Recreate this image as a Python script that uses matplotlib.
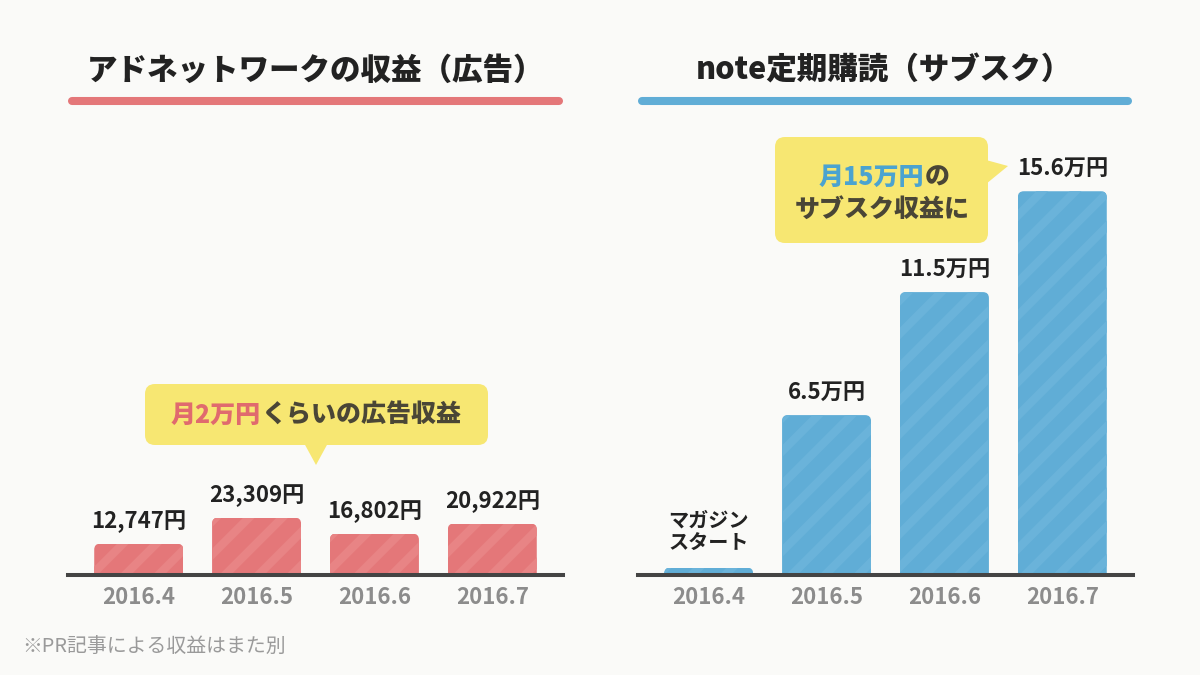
import matplotlib
matplotlib.use('Agg')
import matplotlib.pyplot as plt
from matplotlib.patches import FancyBboxPatch, Polygon
from matplotlib.transforms import IdentityTransform
from matplotlib.lines import Line2D

plt.rcParams['font.family'] = ['Noto Sans CJK JP', 'DejaVu Sans']
plt.rcParams['hatch.linewidth'] = 6

# ---- data ----
months = ['2016.4', '2016.5', '2016.6', '2016.7']
ad_revenue_yen = [12747, 23309, 16802, 20922]
ad_labels = ['12,747円', '23,309円', '16,802円', '20,922円']
sub_revenue_man = [0.3, 6.5, 11.5, 15.6]
sub_labels = ['マガジン\nスタート', '6.5万円', '11.5万円', '15.6万円']
left_title = 'アドネットワークの収益（広告）'
right_title = 'note定期購読（サブスク）'
footnote = '※PR記事による収益はまた別'

BG = '#FAFAF8'
RED = '#E47779'
RED_STRIPE = '#E88485'
BLUE = '#60ADD6'
BLUE_STRIPE = '#6AB3DA'
YELLOW = '#F7E772'
DARK = '#222222'
CALLOUT_TXT = '#4A4636'
GRAY = '#8C8C8C'

W, H = 1200, 675
fig = plt.figure(figsize=(12, 6.75), dpi=100, facecolor=BG)

PX_PER_MAN = 24.6
AX_H = 475


def make_axes(left_px):
    ax = fig.add_axes([left_px / W, 100 / H, 495 / W, AX_H / H])
    ax.set_facecolor('none')
    for s in ['top', 'left', 'right']:
        ax.spines[s].set_visible(False)
    ax.spines['bottom'].set_color('#444444')
    ax.spines['bottom'].set_linewidth(2.9)
    ax.set_yticks([])
    ax.set_xlim(-0.6, 3.6)
    ax.set_xticks(range(len(months)))
    ax.set_xticklabels(months, fontsize=16, fontweight='bold', color=GRAY)
    ax.tick_params(axis='x', length=0, pad=8)
    return ax


def round_tops(ax, bars, r=6):
    for b in bars:
        x0, y0 = ax.transData.transform((b.get_x(), 0))
        x1, y1 = ax.transData.transform((b.get_x() + b.get_width(), b.get_height()))
        clip = FancyBboxPatch((x0, y0 - 2 * r), x1 - x0, (y1 - y0) + 2 * r,
                              boxstyle=f'round,pad=0,rounding_size={r}',
                              transform=IdentityTransform())
        b.set_clip_path(clip)


# left panel
axL = make_axes(68)
axL.set_ylim(0, AX_H / PX_PER_MAN * 10000)
barsL = axL.bar(range(4), ad_revenue_yen, width=0.755, color=RED,
                edgecolor=RED_STRIPE, linewidth=0, hatch='/')
round_tops(axL, barsL)
for i, (v, lab) in enumerate(zip(ad_revenue_yen, ad_labels)):
    axL.annotate(lab, (i, v), xytext=(0, 22 * 0.72), textcoords='offset points',
                 ha='center', va='center', fontsize=16, fontweight='bold', color=DARK)

# right panel
axR = make_axes(638)
axR.set_ylim(0, AX_H / PX_PER_MAN)
barsR = axR.bar(range(4), sub_revenue_man, width=0.755, color=BLUE,
                edgecolor=BLUE_STRIPE, linewidth=0, hatch='/')
round_tops(axR, barsR)
for i, (v, lab) in enumerate(zip(sub_revenue_man, sub_labels)):
    if '\n' in lab:
        axR.annotate(lab, (i, v), xytext=(0, 36 * 0.72), textcoords='offset points',
                     ha='center', va='center', fontsize=14.5, fontweight='bold',
                     color=DARK, linespacing=1.1, multialignment='center')
    else:
        axR.annotate(lab, (i, v), xytext=(0, 22 * 0.72), textcoords='offset points',
                     ha='center', va='center', fontsize=16, fontweight='bold', color=DARK)

# overlay in pixel coordinates for decorations
ov = fig.add_axes([0, 0, 1, 1])
ov.set_xlim(0, W)
ov.set_ylim(H, 0)
ov.axis('off')
ov.patch.set_alpha(0)

# titles
ov.text(316, 70, left_title, ha='center', va='center', fontsize=22,
        fontweight='black', color=DARK)
ov.text(884, 70, right_title, ha='center', va='center', fontsize=22,
        fontweight='black', color=DARK)
ov.add_line(Line2D([72, 559], [101, 101], color=RED, lw=5.8, solid_capstyle='round'))
ov.add_line(Line2D([642, 1128], [101, 101], color=BLUE, lw=5.8, solid_capstyle='round'))

# left callout
ov.add_patch(FancyBboxPatch((145, 384), 343, 61, boxstyle='round,pad=0,rounding_size=10',
                            facecolor=YELLOW, edgecolor='none'))
ov.add_patch(Polygon([(304, 443), (328, 443), (316, 465)], closed=True,
                     facecolor=YELLOW, edgecolor='none'))
ov.text(261, 415, '月2万円', ha='right', va='center', fontsize=18,
        fontweight='black', color='#E06A6E')
ov.text(262, 415, 'くらいの広告収益', ha='left', va='center', fontsize=18,
        fontweight='black', color=CALLOUT_TXT)

# right callout
ov.add_patch(FancyBboxPatch((775, 137), 213, 106, boxstyle='round,pad=0,rounding_size=10',
                            facecolor=YELLOW, edgecolor='none'))
ov.add_patch(Polygon([(986, 160), (1008, 166), (986, 184)], closed=True,
                     facecolor=YELLOW, edgecolor='none'))
ov.text(924, 177, '月15万円', ha='right', va='center', fontsize=18,
        fontweight='black', color='#4BA3D0')
ov.text(925, 177, 'の', ha='left', va='center', fontsize=18,
        fontweight='black', color=CALLOUT_TXT)
ov.text(882, 209, 'サブスク収益に', ha='center', va='center', fontsize=18,
        fontweight='black', color=CALLOUT_TXT)

# footnote
ov.text(22, 646, footnote, ha='left', va='center', fontsize=14.3, color='#9A9A9A')

fig.savefig('out.png', dpi=100, facecolor=BG)
